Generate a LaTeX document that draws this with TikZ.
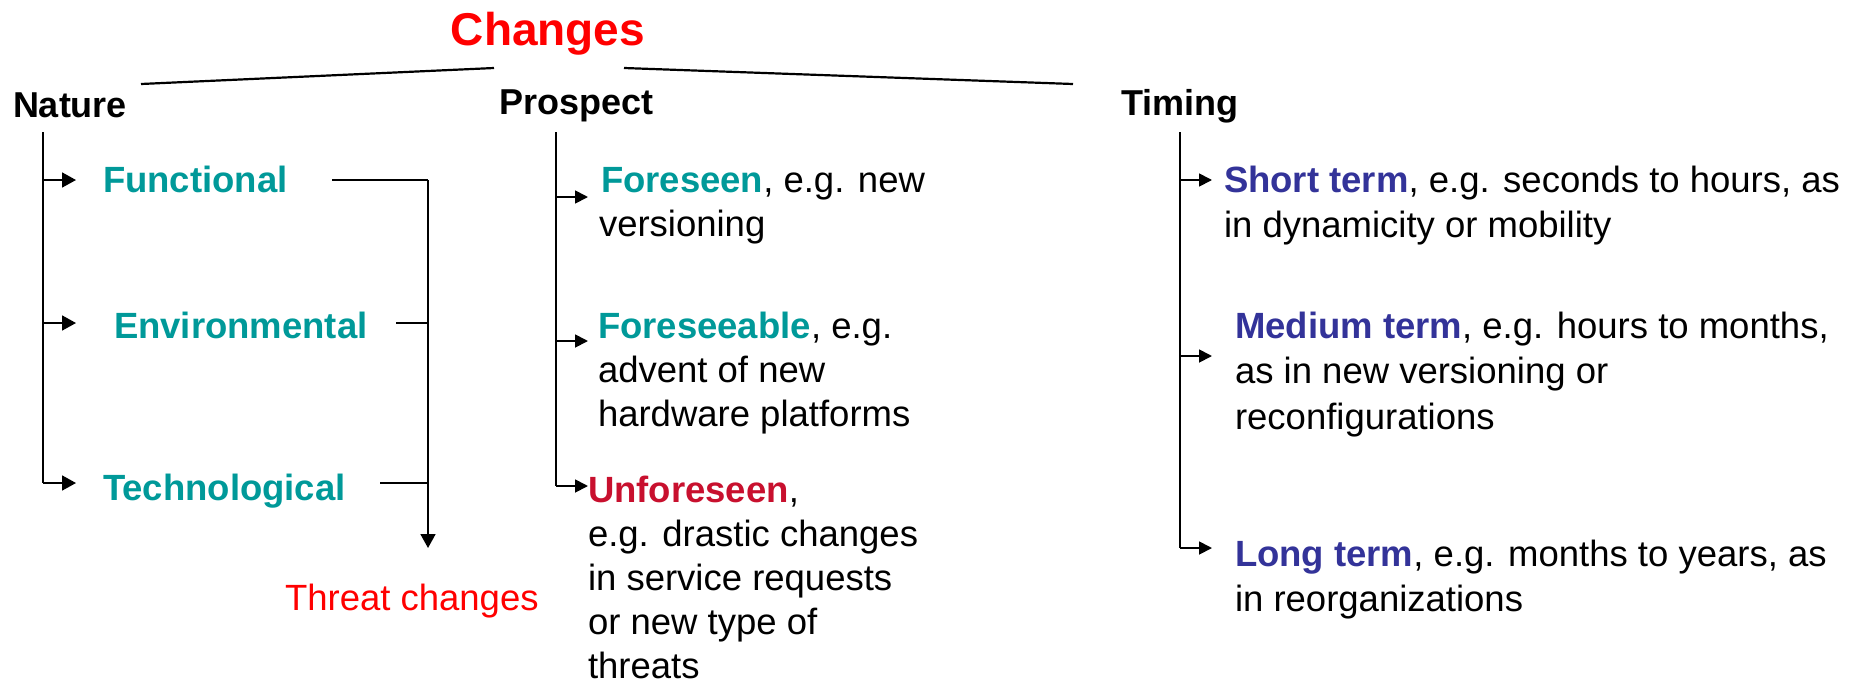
\documentclass[tikz,border=0pt]{standalone}
\usepackage{fontspec}
\setmainfont{Liberation Sans}
\usetikzlibrary{arrows.meta}
\definecolor{teal1}{RGB}{0,153,153}
\definecolor{red1}{RGB}{255,0,0}
\definecolor{crim}{RGB}{200,16,46}
\definecolor{navy1}{RGB}{51,51,153}
\begin{document}
\begin{tikzpicture}[x=1pt,y=-1pt,
  txt/.style={inner sep=0pt,outer sep=0pt,anchor=base west,font=\fontsize{36.5}{44}\selectfont},
  ttxt/.style={inner sep=0pt,outer sep=0pt,anchor=base west,font=\fontsize{36.5}{45.5}\selectfont},
  head/.style={txt,font=\fontsize{36}{44}\selectfont\bfseries},
  cat/.style={txt,font=\fontsize{36.5}{44}\selectfont\bfseries,text=teal1},
  wire/.style={line width=1.8pt},
  arr/.style={line width=1.8pt,-{Triangle[length=14pt,width=15pt]}},
  sarr/.style={line width=1.8pt,-{Triangle[length=13pt,width=13pt]}}]
\useasboundingbox (0,0) rectangle (1864,683);

% title
\node[inner sep=0pt,anchor=base,font=\fontsize{46}{50}\selectfont\bfseries,text=red1] (changes) at (548,45) {Changes};
\coordinate (cl) at (494,68);
\coordinate (cr) at (624,68);
\coordinate (ll) at (141,84);
\coordinate (rr) at (1073,84);
\draw[line width=2.2pt] (cl) -- (ll);
\draw[line width=2.2pt] (cr) -- (rr);

% headers
\node[head] (nature) at (13,117) {Nature};
\node[head] (prospect) at (499,114) {Prospect};
\node[head] (timing) at (1121,115) {Timing};

% Nature column
\node[cat] (functional) at (103,192) {Functional};
\node[cat] (environmental) at (114,338) {Environmental};
\node[cat] (technological) at (103,500) {Technological};
\coordinate (n0) at (43,132);
\coordinate (n1) at (43,180);
\coordinate (n2) at (43,323);
\coordinate (n3) at (43,483);
\coordinate (n1t) at (76,180);
\coordinate (n2t) at (76,323);
\coordinate (n3t) at (76,483);
\draw[wire] (n0) -- (n3);
\draw[arr] (n1) -- (n1t);
\draw[arr] (n2) -- (n2t);
\draw[arr] (n3) -- (n3t);

% bracket to threat changes
\coordinate (b1) at (332,180);
\coordinate (b2) at (396,323);
\coordinate (b3) at (380,483);
\coordinate (v1) at (428,180);
\coordinate (v2) at (428,323);
\coordinate (v3) at (428,483);
\coordinate (vend) at (428,548);
\draw[wire] (b1) -- (v1);
\draw[wire] (b2) -- (v2);
\draw[wire] (b3) -- (v3);
\draw[arr] (v1) -- (vend);
\node[txt,text=red1] (threat) at (285,610) {Threat changes};

% Prospect column
\node[txt] (foreseen) at (599,192) {\begin{tabular}[t]{@{}l@{}}\hspace{2pt}\textcolor{teal1}{\bfseries Foreseen}, e.g. new\\versioning\end{tabular}};
\node[txt] (foreseeable) at (598,338) {\begin{tabular}[t]{@{}l@{}}\textcolor{teal1}{\bfseries Foreseeable}, e.g.\\advent of new\\hardware platforms\end{tabular}};
\node[txt] (unforeseen) at (588,502) {\begin{tabular}[t]{@{}l@{}}\textcolor{crim}{\bfseries Unforeseen},\\e.g. drastic changes\\in service requests\\or new type of\\threats\end{tabular}};
\coordinate (p0) at (556,132);
\coordinate (p1) at (556,197);
\coordinate (p2) at (556,341);
\coordinate (p3) at (556,486);
\coordinate (p1t) at (588,197);
\coordinate (p2t) at (588,341);
\coordinate (p3t) at (588,486);
\draw[wire] (p0) -- (p3);
\draw[sarr] (p1) -- (p1t);
\draw[sarr] (p2) -- (p2t);
\draw[sarr] (p3) -- (p3t);

% Timing column
\node[ttxt] (short) at (1224,192) {\begin{tabular}[t]{@{}l@{}}\textcolor{navy1}{\bfseries Short term}, e.g. seconds to hours, as\\in dynamicity or mobility\end{tabular}};
\node[ttxt] (medium) at (1235,338) {\begin{tabular}[t]{@{}l@{}}\textcolor{navy1}{\bfseries Medium term}, e.g. hours to months,\\as in new versioning or\\reconfigurations\end{tabular}};
\node[ttxt] (long) at (1235,566) {\begin{tabular}[t]{@{}l@{}}\textcolor{navy1}{\bfseries Long term}, e.g. months to years, as\\in reorganizations\end{tabular}};
\coordinate (t0) at (1180,132);
\coordinate (t1) at (1180,180);
\coordinate (t2) at (1180,356);
\coordinate (t3) at (1180,548);
\coordinate (t1t) at (1212,180);
\coordinate (t2t) at (1212,356);
\coordinate (t3t) at (1212,548);
\draw[wire] (t0) -- (t3);
\draw[sarr] (t1) -- (t1t);
\draw[sarr] (t2) -- (t2t);
\draw[sarr] (t3) -- (t3t);
\end{tikzpicture}
\end{document}
